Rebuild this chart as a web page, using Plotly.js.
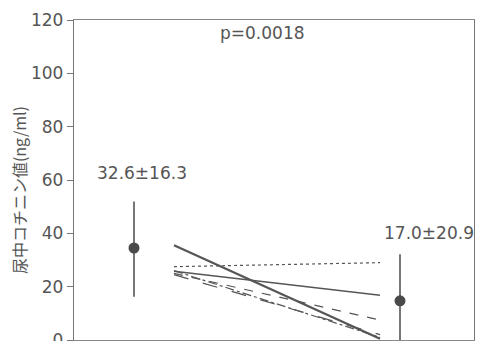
<!DOCTYPE html>
<html>
<head>
<meta charset="utf-8">
<script src="https://cdn.plot.ly/plotly-3.0.1.min.js"></script>
<style>
html,body{margin:0;padding:0;overflow:hidden;background:#fff;}
#chart{width:478px;height:365px;}
</style>
</head>
<body>
<div id="chart"></div>
<script>
// Group summary points (x positions on a 0-10 axis)
var groupX = [1.5, 8.15];
var groupMean = [34.5, 14.7];
var groupErrPlus = [17.4, 17.5];
var groupErrMinus = [18.3, 14.7];
var groupLabels = ["32.6±16.3", "17.0±20.9"];

// Individual subjects: before / after
var lineX = [2.5, 7.65];
var subjA = [35.5, 0.5];
var subjB = [25.8, 16.8];
var subjC = [27.5, 29.0];
var subjD = [25.0, 7.5];
var subjE = [24.5, 2.0];
var subjF = [26.0, 1.0];

var yTicks = [0, 20, 40, 60, 80, 100, 120];
var pText = "p=0.0018";
var yTitle = "尿中コチニン値(ng/ml)";

function subj(y, dash, w) {
  return {x: lineX, y: y, type: 'scatter', mode: 'lines',
    line: {color: '#555', width: w, dash: dash}, hoverinfo: 'skip', showlegend: false};
}

var traces = [
  subj(subjA, 'solid', 2.2),
  subj(subjB, 'solid', 1.4),
  subj(subjC, 'dot', 1.2),
  subj(subjD, 'dash', 1.2),
  subj(subjE, 'longdash', 1.2),
  subj(subjF, 'dashdot', 1.2),
  {x: groupX, y: groupMean, type: 'scatter', mode: 'markers',
   marker: {color: '#4a4a4a', size: 11},
   error_y: {type: 'data', symmetric: false, array: groupErrPlus, arrayminus: groupErrMinus,
     color: '#555', thickness: 1.6, width: 0},
   showlegend: false}
];

var layout = {
  width: 478, height: 365,
  margin: {l: 74, r: 4, t: 20, b: 25},
  paper_bgcolor: '#fff', plot_bgcolor: '#fff',
  font: {family: 'DejaVu Sans, sans-serif', color: '#555', size: 17},
  showlegend: false,
  xaxis: {range: [0, 10], showticklabels: false, ticks: '', showgrid: false, zeroline: false,
    showline: true, linecolor: '#888', linewidth: 1.2, mirror: true},
  yaxis: {range: [0, 120], tickvals: yTicks, ticks: 'outside', ticklen: 6, tickcolor: '#777',
    showgrid: false, zeroline: false, showline: true, linecolor: '#777', linewidth: 1.2, mirror: true,
    tickfont: {size: 17, color: '#555'}},
  annotations: [
    {x: 1.69, y: 62.5, xref: 'x', yref: 'y', text: groupLabels[0], showarrow: false,
     font: {size: 17, color: '#555'}},
    {x: 8.875, y: 40.1, xref: 'x', yref: 'y', text: groupLabels[1], showarrow: false,
     font: {size: 17, color: '#555'}},
    {x: 4.7, y: 115.1, xref: 'x', yref: 'y', text: pText, showarrow: false,
     font: {size: 17, color: '#555'}},
    {x: -0.137, y: 0.469, xref: 'paper', yref: 'paper', xanchor: 'center', yanchor: 'middle',
     text: yTitle, showarrow: false,
     textangle: -90, font: {family: 'Noto Sans CJK JP, sans-serif', size: 16, color: '#555'}}
  ]
};

Plotly.newPlot('chart', traces, layout, {displayModeBar: false, staticPlot: true});
</script>
</body>
</html>
